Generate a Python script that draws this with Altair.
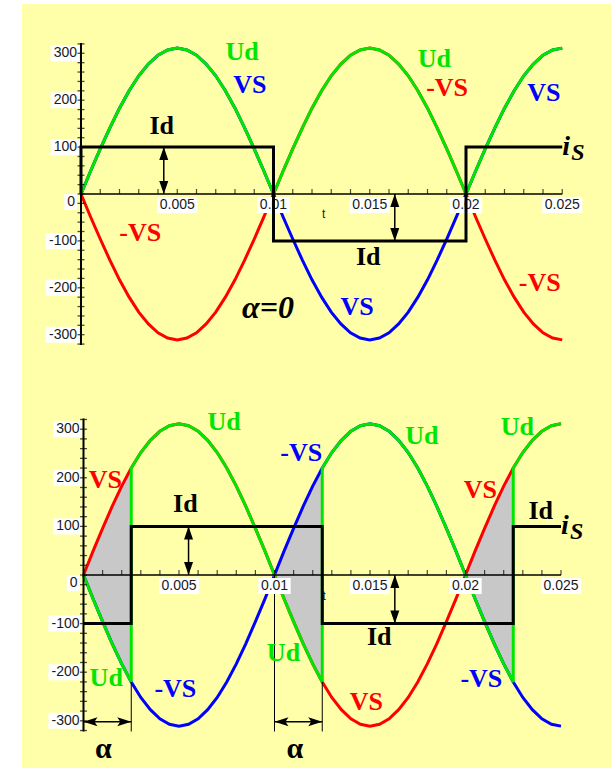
import altair as alt
import pandas as pd

# Sample instants of the 50 Hz supply (s) and supply voltage VS (V)
TIME_S = [0.0, 0.0005, 0.001, 0.0015, 0.002, 0.0025, 0.003, 0.0035, 0.004, 0.0045,
          0.005, 0.0055, 0.006, 0.0065, 0.007, 0.0075, 0.008, 0.0085, 0.009, 0.0095,
          0.01, 0.0105, 0.011, 0.0115, 0.012, 0.0125, 0.013, 0.0135, 0.014, 0.0145,
          0.015, 0.0155, 0.016, 0.0165, 0.017, 0.0175, 0.018, 0.0185, 0.019, 0.0195,
          0.02, 0.0205, 0.021, 0.0215, 0.022, 0.0225, 0.023, 0.0235, 0.024, 0.0245, 0.025]
VS = [0, 49, 96, 141, 183, 220, 252, 277, 296, 307,
      311, 307, 296, 277, 252, 220, 183, 141, 96, 49,
      0, -49, -96, -141, -183, -220, -252, -277, -296, -307,
      -311, -307, -296, -277, -252, -220, -183, -141, -96, -49,
      0, 49, 96, 141, 183, 220, 252, 277, 296, 307, 311]
HALF_PERIOD = 0.01

# Firing delays of the two cases (s)
ALPHA_TOP = 0.0
ALPHA_BOTTOM = 0.0025

# Source current i_S (A) as breakpoints
TOP_IS_T = [0.0, 0.0, 0.01, 0.01, 0.02, 0.02, 0.025]
TOP_IS_V = [0, 100, 100, -100, -100, 100, 100]
BOT_IS_T = [0.0, 0.0025, 0.0025, 0.0125, 0.0125, 0.0225, 0.0225, 0.025]
BOT_IS_V = [-100, -100, 100, 100, -100, -100, 100, 100]

# Id double arrows
TOP_ARROW_T = [0.0043, 0.0163]
BOT_ARROW_T = [0.0055, 0.0163]
ARROW_LO = [0, -100]
ARROW_HI = [100, 0]

# Firing-angle spans and guide lines (bottom case)
SPAN_START = [0.0, 0.01]
SPAN_END = [0.0025, 0.0125]
SPAN_V = -302
GUIDE_T = [0.0025, 0.01, 0.0125]
GUIDE_FROM = [-220, 0, -220]
GUIDE_TO = -322
ALPHA_LABEL_T = [0.00104, 0.01107]
ALPHA_LABEL_V = [-358, -358]

# Axes
Y_AXIS_END = 322
X_AXIS_END = 0.025
Y_TICK_VALUES = [300, 200, 100, 0, -100, -200, -300]
Y_TICK_LABELS = ["300", "200", "100", "0", "-100", "-200", "-300"]
X_TICK_VALUES = [0.005, 0.01, 0.015, 0.02, 0.025]
X_TICK_LABELS = ["0.005", "0.01", "0.015", "0.02", "0.025"]

# Curve labels
TOP_LABEL_TEXT = ["Ud", "VS", "Ud", "-VS", "VS", "Id", "-VS", "Id", "-VS", "VS"]
TOP_LABEL_T = [0.00837, 0.00877, 0.01836, 0.01902, 0.02404, 0.00419, 0.00308, 0.01492, 0.02383, 0.01434]
TOP_LABEL_V = [303, 232, 287, 225, 215, 145, -84, -134, -190, -240]
BOT_LABEL_TEXT = ["Ud", "Ud", "Ud", "-VS", "VS", "VS", "Id", "Id", "Id", "Ud", "-VS", "Ud", "VS", "-VS"]
BOT_LABEL_T = [0.00736, 0.01772, 0.02272, 0.0114, 0.00114, 0.02078, 0.00533, 0.02394, 0.01548,
               0.00119, 0.00481, 0.01047, 0.01481, 0.02083]
BOT_LABEL_V = [314, 286, 305, 250, 195, 175, 146, 132, -128, -211, -235, -161, -261, -213]

GREEN = "#00E600"
RED = "#FF0000"
BLUE = "#0000FF"
YELLOW = "#FFFFAA"
GREY = "#C8C8C8"
SERIF = "Liberation Serif"
SANS = "Liberation Sans"

UP_HEAD = "M0,0L-0.45,1.3L0.45,1.3Z"
DOWN_HEAD = "M0,0L-0.45,-1.3L0.45,-1.3Z"
LEFT_HEAD = "M0,0L1.4,-0.45L1.1,0L1.4,0.45Z"
RIGHT_HEAD = "M0,0L-1.4,-0.45L-1.1,0L-1.4,0.45Z"

W_EXPR = ("7.8*length(datum.label) - (indexof(datum.label, '.') >= 0 ? 3.9 : 0)"
          " - (indexof(datum.label, '-') >= 0 ? 3.1 : 0) + 5")
CENTER_BOX = "'M' + (-datum.w/20) + ',-0.8H' + (datum.w/20) + 'V0.8H' + (-datum.w/20) + 'Z'"
RIGHT_BOX = "'M' + (-datum.w/10) + ',-0.8H0V0.8H' + (-datum.w/10) + 'Z'"


def rectifier_output(alpha):
    """Bridge output Ud: VS while the first pair conducts, -VS otherwise."""
    a = TIME_S.index(alpha)
    half = TIME_S.index(HALF_PERIOD)
    rows = []
    for k, (t, v) in enumerate(zip(TIME_S, VS)):
        first_pair = ((k - a) // half) % 2 == 0
        if k > 0 and (k - a) % half == 0:
            rows.append((t, -v if first_pair else v))
        rows.append((t, v if first_pair else -v))
    return rows


def overlap_segments(alpha):
    a = TIME_S.index(alpha)
    half = TIME_S.index(HALF_PERIOD)
    rows = []
    for n in range(3):
        for k in range(n * half, min(n * half + a + 1, len(TIME_S))):
            rows.append((TIME_S[k], VS[k], -VS[k], n))
    return pd.DataFrame(rows, columns=["t", "vs", "neg", "seg"])


def build_panel(alpha, x_dom, y_dom, height, palette, label_text, label_t, label_v,
                is_t, is_v, arrow_t, bottom_case):
    def X(field):
        return alt.X(f"{field}:Q", scale=alt.Scale(domain=x_dom, nice=False, zero=False), axis=None)

    def Y(field):
        return alt.Y(f"{field}:Q", scale=alt.Scale(domain=y_dom, nice=False, zero=False), axis=None)

    layers = []
    curve = pd.DataFrame({"t": TIME_S, "vs": VS, "neg": [-v for v in VS],
                          "idx": list(range(len(TIME_S)))})

    if alpha > 0:
        shade = overlap_segments(alpha)
        layers.append(alt.Chart(shade).mark_area(color=GREY, opacity=1).encode(
            x=X("t"), y=Y("vs"), y2=alt.Y2("neg"), detail="seg:N"))

    layers.append(alt.Chart(curve).mark_line(color=palette["VS"], strokeWidth=3).encode(
        x=X("t"), y=Y("vs"), order="idx:Q"))
    layers.append(alt.Chart(curve).mark_line(color=palette["-VS"], strokeWidth=3).encode(
        x=X("t"), y=Y("neg"), order="idx:Q"))

    ud = pd.DataFrame(rectifier_output(alpha), columns=["t", "v"])
    ud["idx"] = range(len(ud))
    layers.append(alt.Chart(ud).mark_line(color=GREEN, strokeWidth=3).encode(
        x=X("t"), y=Y("v"), order="idx:Q"))

    if bottom_case:
        guides = pd.DataFrame({"t": GUIDE_T, "v": GUIDE_FROM, "v2": [GUIDE_TO] * len(GUIDE_T)})
        layers.append(alt.Chart(guides).mark_rule(color="black", strokeWidth=1).encode(
            x=X("t"), y=Y("v"), y2=alt.Y2("v2")))

    # axes drawn through the origin
    layers.append(alt.Chart(pd.DataFrame({"t": [0], "t2": [X_AXIS_END], "v": [0]}))
                  .mark_rule(color="black", strokeWidth=1.5)
                  .encode(x=X("t"), x2=alt.X2("t2"), y=Y("v")))

    xl = pd.DataFrame({"t": X_TICK_VALUES, "v": 0, "label": X_TICK_LABELS})
    layers.append(alt.Chart(xl).transform_calculate(w=W_EXPR).transform_calculate(box=CENTER_BOX)
                  .mark_point(filled=True, color="white", opacity=1, size=400, strokeWidth=0, yOffset=11)
                  .encode(x=X("t"), y=Y("v"), shape=alt.Shape("box:N", scale=None)))
    layers.append(alt.Chart(xl).mark_text(font=SANS, fontSize=14, color="#1a1a1a",
                                          baseline="middle", align="center", yOffset=11)
                  .encode(x=X("t"), y=Y("v"), text="label:N"))

    yl = pd.DataFrame({"t": 0, "v": Y_TICK_VALUES, "label": Y_TICK_LABELS})
    ylab = alt.Chart(yl).transform_calculate(w=W_EXPR).transform_calculate(box=RIGHT_BOX)
    layers.append(ylab.transform_filter("datum.v != 0")
                  .mark_point(filled=True, color="white", opacity=1, size=400, strokeWidth=0, xOffset=-2)
                  .encode(x=X("t"), y=Y("v"), shape=alt.Shape("box:N", scale=None)))
    layers.append(ylab.transform_filter("datum.v == 0")
                  .mark_point(filled=True, color="white", opacity=1, size=400, strokeWidth=0,
                              xOffset=-4, yOffset=8)
                  .encode(x=X("t"), y=Y("v"), shape=alt.Shape("box:N", scale=None)))
    layers.append(alt.Chart(yl).transform_filter("datum.v != 0")
                  .mark_text(font=SANS, fontSize=14, color="#1a1a1a", baseline="middle",
                             align="right", xOffset=-4)
                  .encode(x=X("t"), y=Y("v"), text="label:N"))
    layers.append(alt.Chart(yl).transform_filter("datum.v == 0")
                  .mark_text(font=SANS, fontSize=14, color="#1a1a1a", baseline="middle",
                             align="right", xOffset=-6, yOffset=8)
                  .encode(x=X("t"), y=Y("v"), text="label:N"))

    layers.append(alt.Chart(pd.DataFrame({"t": [0], "v": [-Y_AXIS_END], "v2": [Y_AXIS_END]}))
                  .mark_rule(color="black", strokeWidth=2)
                  .encode(x=X("t"), y=Y("v"), y2=alt.Y2("v2")))
    yt = pd.DataFrame({"t": 0, "v": list(range(-320, 321, 20))})
    layers.append(alt.Chart(yt).mark_tick(orient="horizontal", size=7, thickness=1.3, color="black")
                  .encode(x=X("t"), y=Y("v")))
    xt = pd.DataFrame({"t": [k / 1000 for k in range(1, 26)], "v": 0})
    layers.append(alt.Chart(xt).mark_tick(orient="vertical", size=5, thickness=1.2, color="black",
                                          yOffset=-2.5)
                  .encode(x=X("t"), y=Y("v")))

    layers.append(alt.Chart(pd.DataFrame({"t": [X_TICK_VALUES[1] + 0.0026], "v": [-43]}))
                  .mark_text(text="t", font=SANS, fontSize=12, color="#1a1a1a", baseline="middle")
                  .encode(x=X("t"), y=Y("v")))

    # source current
    sq = pd.DataFrame({"t": is_t, "v": is_v, "idx": list(range(len(is_t)))})
    layers.append(alt.Chart(sq).mark_line(color="black", strokeWidth=3, strokeJoin="miter")
                  .encode(x=X("t"), y=Y("v"), order="idx:Q"))

    arrows = pd.DataFrame({"t": arrow_t, "lo": ARROW_LO, "hi": ARROW_HI})
    layers.append(alt.Chart(arrows).mark_rule(color="black", strokeWidth=1.5)
                  .encode(x=X("t"), y=Y("lo"), y2=alt.Y2("hi")))
    layers.append(alt.Chart(arrows).mark_point(shape=UP_HEAD, size=400, filled=True, color="black",
                                               opacity=1, strokeWidth=0)
                  .encode(x=X("t"), y=Y("hi")))
    layers.append(alt.Chart(arrows).mark_point(shape=DOWN_HEAD, size=400, filled=True, color="black",
                                               opacity=1, strokeWidth=0)
                  .encode(x=X("t"), y=Y("lo")))

    if bottom_case:
        spans = pd.DataFrame({"t": SPAN_START, "t2": SPAN_END, "v": SPAN_V})
        layers.append(alt.Chart(spans).mark_rule(color="black", strokeWidth=1.5)
                      .encode(x=X("t"), x2=alt.X2("t2"), y=Y("v")))
        layers.append(alt.Chart(spans).mark_point(shape=LEFT_HEAD, size=400, filled=True, color="black",
                                                  opacity=1, strokeWidth=0)
                      .encode(x=X("t"), y=Y("v")))
        layers.append(alt.Chart(spans.rename(columns={"t": "t0", "t2": "t"}))
                      .mark_point(shape=RIGHT_HEAD, size=400, filled=True, color="black",
                                  opacity=1, strokeWidth=0)
                      .encode(x=X("t"), y=Y("v")))
        alpha_labels = pd.DataFrame({"t": ALPHA_LABEL_T, "v": ALPHA_LABEL_V,
                                     "text": ["α"] * len(ALPHA_LABEL_T)})
        layers.append(alt.Chart(alpha_labels)
                      .mark_text(font=SERIF, fontSize=30, fontWeight="bold", color="black",
                                 baseline="middle")
                      .encode(x=X("t"), y=Y("v"), text="text:N"))
    else:
        layers.append(alt.Chart(pd.DataFrame({"t": [0.00971], "v": [-244], "text": ["α=0"]}))
                      .mark_text(font=SERIF, fontSize=32, fontWeight="bold", fontStyle="italic",
                                 color="black", baseline="middle")
                      .encode(x=X("t"), y=Y("v"), text="text:N"))

    labels = pd.DataFrame({"t": label_t, "v": label_v, "text": label_text})
    layers.append(alt.Chart(labels).mark_text(font=SERIF, fontSize=26, fontWeight="bold",
                                              baseline="middle")
                  .encode(x=X("t"), y=Y("v"), text="text:N",
                          color=alt.Color("text:N", legend=None,
                                          scale=alt.Scale(domain=list(palette),
                                                          range=list(palette.values())))))

    is_pos = pd.DataFrame({"t": [is_t[-1]], "v": [is_v[-1]]})
    layers.append(alt.Chart(is_pos).mark_text(text="i", font=SERIF, fontSize=28, fontStyle="italic",
                                              fontWeight="bold", color="black", align="left",
                                              baseline="alphabetic", dx=0, dy=8)
                  .encode(x=X("t"), y=Y("v")))
    layers.append(alt.Chart(is_pos).mark_text(text="S", font=SERIF, fontSize=24, fontStyle="italic",
                                              fontWeight="bold", color="black", align="left",
                                              baseline="alphabetic", dx=9, dy=13)
                  .encode(x=X("t"), y=Y("v")))

    return alt.layer(*layers).properties(width=589, height=height)


top = build_panel(ALPHA_TOP, [-0.0030649, 0.0275325], [-396.6, 405.1], 376,
                  {"Ud": GREEN, "VS": BLUE, "-VS": RED, "Id": "black"},
                  TOP_LABEL_TEXT, TOP_LABEL_T, TOP_LABEL_V, TOP_IS_T, TOP_IS_V, TOP_ARROW_T, False)
bottom = build_panel(ALPHA_BOTTOM, [-0.0032199, 0.0276178], [-397.1, 401.2], 388,
                     {"Ud": GREEN, "VS": RED, "-VS": BLUE, "Id": "black"},
                     BOT_LABEL_TEXT, BOT_LABEL_T, BOT_LABEL_V, BOT_IS_T, BOT_IS_V, BOT_ARROW_T, True)

chart = (
    alt.vconcat(top, bottom, spacing=0)
    .resolve_scale(color="independent", x="independent", y="independent")
    .properties(padding={"left": 22, "top": 4, "right": 0, "bottom": 0}, background="white")
    .configure_view(fill=YELLOW, strokeWidth=0)
)

chart.save("out.html", embed_options={"renderer": "svg", "actions": False})
